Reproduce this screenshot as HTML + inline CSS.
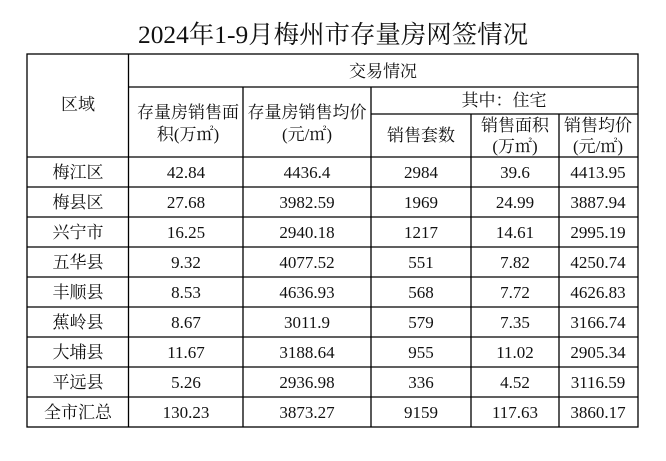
<!DOCTYPE html>
<html><head><meta charset="utf-8"><style>
html,body{margin:0;padding:0;background:#fff;}
svg text{font-family:"Liberation Serif","Noto Serif CJK SC","Noto Sans CJK SC",serif;fill:#111;}
</style></head><body>
<svg width="666" height="456" xmlns="http://www.w3.org/2000/svg">
<rect width="666" height="456" fill="#fff"/>
<text x="333" y="43" font-size="25" text-anchor="middle" textLength="390" lengthAdjust="spacingAndGlyphs">2024年1-9月梅州市存量房网签情况</text>
<g stroke="#000" stroke-width="1.3" fill="none">
<rect x="27" y="54" width="611" height="373"/>
<line x1="128.5" y1="54" x2="128.5" y2="427"/>
<line x1="243" y1="87" x2="243" y2="427"/>
<line x1="371" y1="87" x2="371" y2="427"/>
<line x1="471" y1="114" x2="471" y2="427"/>
<line x1="559" y1="114" x2="559" y2="427"/>
<line x1="128.5" y1="87" x2="638" y2="87"/>
<line x1="371" y1="114" x2="638" y2="114"/>
<line x1="27" y1="157" x2="638" y2="157"/>
<line x1="27" y1="187" x2="638" y2="187"/>
<line x1="27" y1="217" x2="638" y2="217"/>
<line x1="27" y1="247" x2="638" y2="247"/>
<line x1="27" y1="277" x2="638" y2="277"/>
<line x1="27" y1="307" x2="638" y2="307"/>
<line x1="27" y1="337" x2="638" y2="337"/>
<line x1="27" y1="367" x2="638" y2="367"/>
<line x1="27" y1="397" x2="638" y2="397"/>
</g>
<g font-size="17" text-anchor="middle">
<text x="78" y="110">区域</text>
<text x="383" y="77">交易情况</text>
<text x="504" y="106">其中：住宅</text>
<text x="188" y="118">存量房销售面</text>
<text x="188" y="140">积(万㎡)</text>
<text x="307" y="118">存量房销售均价</text>
<text x="307" y="140">(元/㎡)</text>
<text x="421" y="141">销售套数</text>
<text x="515" y="131">销售面积</text>
<text x="515" y="152">(万㎡)</text>
<text x="598" y="131">销售均价</text>
<text x="598" y="152">(元/㎡)</text>
</g>
<g font-size="17" text-anchor="middle">
<text x="78" y="178">梅江区</text><text x="186" y="178">42.84</text><text x="307" y="178">4436.4</text><text x="421" y="178">2984</text><text x="515" y="178">39.6</text><text x="598" y="178">4413.95</text>
<text x="78" y="208">梅县区</text><text x="186" y="208">27.68</text><text x="307" y="208">3982.59</text><text x="421" y="208">1969</text><text x="515" y="208">24.99</text><text x="598" y="208">3887.94</text>
<text x="78" y="238">兴宁市</text><text x="186" y="238">16.25</text><text x="307" y="238">2940.18</text><text x="421" y="238">1217</text><text x="515" y="238">14.61</text><text x="598" y="238">2995.19</text>
<text x="78" y="268">五华县</text><text x="186" y="268">9.32</text><text x="307" y="268">4077.52</text><text x="421" y="268">551</text><text x="515" y="268">7.82</text><text x="598" y="268">4250.74</text>
<text x="78" y="298">丰顺县</text><text x="186" y="298">8.53</text><text x="307" y="298">4636.93</text><text x="421" y="298">568</text><text x="515" y="298">7.72</text><text x="598" y="298">4626.83</text>
<text x="78" y="328">蕉岭县</text><text x="186" y="328">8.67</text><text x="307" y="328">3011.9</text><text x="421" y="328">579</text><text x="515" y="328">7.35</text><text x="598" y="328">3166.74</text>
<text x="78" y="358">大埔县</text><text x="186" y="358">11.67</text><text x="307" y="358">3188.64</text><text x="421" y="358">955</text><text x="515" y="358">11.02</text><text x="598" y="358">2905.34</text>
<text x="78" y="388">平远县</text><text x="186" y="388">5.26</text><text x="307" y="388">2936.98</text><text x="421" y="388">336</text><text x="515" y="388">4.52</text><text x="598" y="388">3116.59</text>
<text x="78" y="418">全市汇总</text><text x="186" y="418">130.23</text><text x="307" y="418">3873.27</text><text x="421" y="418">9159</text><text x="515" y="418">117.63</text><text x="598" y="418">3860.17</text>
</g>
</svg>
</body></html>
